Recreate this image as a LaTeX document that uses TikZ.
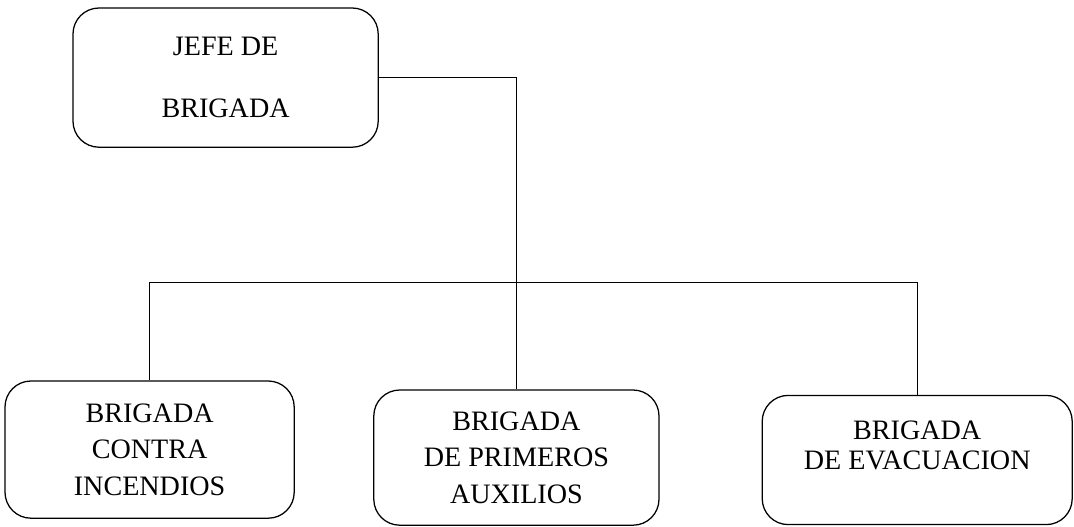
\documentclass[tikz,border=0pt]{standalone}
\usepackage{fontspec}
\setmainfont{Liberation Serif}

\begin{document}
\begin{tikzpicture}[thick,line width=0.9pt,
    main node/.style={draw,rounded corners=0.65cm,align=center,font=\fontsize{20}{26}\selectfont},
    chief node/.style={main node,font=\fontsize{20}{44}\selectfont}]
            \useasboundingbox (0,0) rectangle (26.85,13.15);
            \node[chief node,minimum width=7.63cm,minimum height=3.48cm] (jefe) at (5.64,11.21) {JEFE DE\\BRIGADA};
            \node[main node,minimum width=7.23cm,minimum height=3.43cm] (incendios) at (3.74,1.91) {BRIGADA\\CONTRA\\INCENDIOS};
            \node[main node,minimum width=7.13cm,minimum height=3.38cm] (auxilios) at (12.91,1.71) {BRIGADA\\DE PRIMEROS\\AUXILIOS};
            \node[main node,minimum width=7.75cm,minimum height=3.23cm,font=\fontsize{20}{21}\selectfont] (evacuacion) at (22.93,1.65) {BRIGADA\\DE EVACUACION\\ \mbox{}};

            \coordinate (bus) at (3.74,6.08);

            \draw (jefe.east) -| (auxilios.north);
            \draw (incendios.north) -- (bus) -| (evacuacion.north);
        \end{tikzpicture}
\end{document}
